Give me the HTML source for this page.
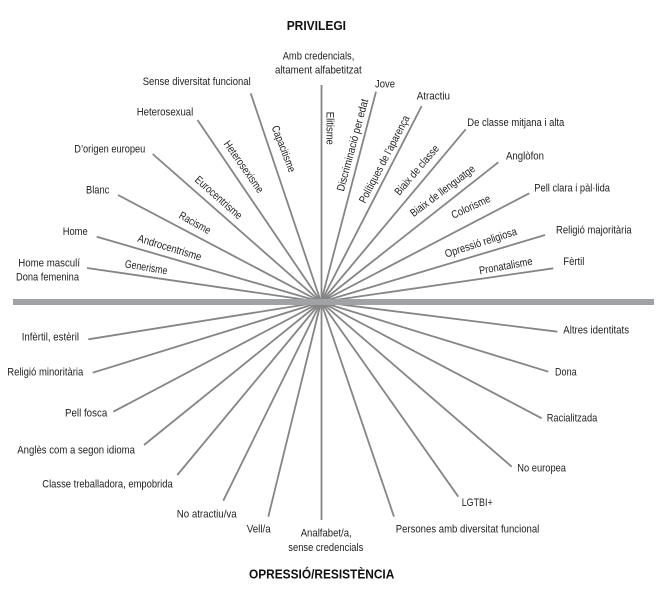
<!DOCTYPE html>
<html><head><meta charset="utf-8"><style>
html,body{margin:0;padding:0;background:#fff;width:664px;height:592px;overflow:hidden}
svg{display:block}
text{font-family:"Liberation Sans Narrow","Liberation Sans",sans-serif;font-size:11px;fill:#1f1f1f}
.b{font-weight:bold;font-size:12.5px;fill:#111}
</style></head><body>
<svg width="664" height="592" viewBox="0 0 664 592" xmlns="http://www.w3.org/2000/svg">
<g stroke="#858585" stroke-width="1.8" stroke-linecap="butt" fill="none">
<!-- upper left -->
<line x1="321" y1="302" x2="250.7" y2="93.3"/>
<line x1="321" y1="302" x2="197.5" y2="120"/>
<line x1="321" y1="302" x2="152.7" y2="154"/>
<line x1="321" y1="302" x2="118" y2="195"/>
<line x1="321" y1="302" x2="96.7" y2="236.7"/>
<line x1="321" y1="302" x2="87" y2="268"/>
<!-- vertical -->
<line x1="321.5" y1="85" x2="321.5" y2="520"/>
<!-- upper right -->
<line x1="321" y1="302" x2="376" y2="91.7"/>
<line x1="321" y1="302" x2="421.7" y2="106"/>
<line x1="321" y1="302" x2="465.7" y2="129.3"/>
<line x1="321" y1="302" x2="498.3" y2="162.3"/>
<line x1="321" y1="302" x2="529.3" y2="193.3"/>
<line x1="321" y1="302" x2="545" y2="235"/>
<line x1="321" y1="302" x2="553.3" y2="268.3"/>
<!-- lower left -->
<line x1="321" y1="302" x2="88.3" y2="339.3"/>
<line x1="321" y1="302" x2="92.7" y2="372.7"/>
<line x1="321" y1="302" x2="113.3" y2="411.7"/>
<line x1="321" y1="302" x2="144" y2="445"/>
<line x1="321" y1="302" x2="177.3" y2="475"/>
<line x1="321" y1="302" x2="223.3" y2="500.7"/>
<line x1="321" y1="302" x2="268.3" y2="516.7"/>
<!-- lower right -->
<line x1="321" y1="302" x2="557.3" y2="331.7"/>
<line x1="321" y1="302" x2="548.3" y2="371.7"/>
<line x1="321" y1="302" x2="541.7" y2="418.3"/>
<line x1="321" y1="302" x2="511.7" y2="466.7"/>
<line x1="321" y1="302" x2="458.3" y2="496.7"/>
<line x1="321" y1="302" x2="394" y2="516.7"/>
</g>
<rect x="13" y="299" width="641" height="6" fill="#a0a3a5"/>

<!-- titles -->
<text class="b" x="286.7" y="30" textLength="59.3" lengthAdjust="spacingAndGlyphs">PRIVILEGI</text>
<text class="b" x="249" y="578.3" textLength="145.3" lengthAdjust="spacingAndGlyphs">OPRESSIÓ/RESISTÈNCIA</text>

<!-- horizontal labels -->
<g>
<text x="282.7" y="59.5" textLength="71.6" lengthAdjust="spacingAndGlyphs">Amb credencials,</text>
<text x="275" y="73.5" textLength="86.7" lengthAdjust="spacingAndGlyphs">altament alfabetitzat</text>
<text x="142.7" y="85" textLength="108" lengthAdjust="spacingAndGlyphs">Sense diversitat funcional</text>
<text x="136.7" y="115.5" textLength="56.6" lengthAdjust="spacingAndGlyphs">Heterosexual</text>
<text x="74.3" y="152.7" textLength="71" lengthAdjust="spacingAndGlyphs">D’origen europeu</text>
<text x="86" y="193.3" textLength="23.3" lengthAdjust="spacingAndGlyphs">Blanc</text>
<text x="62.7" y="235" textLength="25" lengthAdjust="spacingAndGlyphs">Home</text>
<text x="18.3" y="266.7" textLength="61.7" lengthAdjust="spacingAndGlyphs">Home masculí</text>
<text x="16" y="280.7" textLength="63" lengthAdjust="spacingAndGlyphs">Dona femenina</text>
<text x="375" y="87.3" textLength="20" lengthAdjust="spacingAndGlyphs">Jove</text>
<text x="416.7" y="99.3" textLength="33.3" lengthAdjust="spacingAndGlyphs">Atractiu</text>
<text x="467.3" y="126" textLength="97" lengthAdjust="spacingAndGlyphs">De classe mitjana i alta</text>
<text x="506" y="159.3" textLength="38" lengthAdjust="spacingAndGlyphs">Anglòfon</text>
<text x="534.3" y="191.7" textLength="75.7" lengthAdjust="spacingAndGlyphs">Pell clara i pàl·lida</text>
<text x="556" y="233.3" textLength="75.7" lengthAdjust="spacingAndGlyphs">Religió majoritària</text>
<text x="563.3" y="265" textLength="21" lengthAdjust="spacingAndGlyphs">Fèrtil</text>
<text x="21.7" y="340.7" textLength="57.3" lengthAdjust="spacingAndGlyphs">Infèrtil, estèril</text>
<text x="7.3" y="375.7" textLength="76" lengthAdjust="spacingAndGlyphs">Religió minoritària</text>
<text x="65" y="416.7" textLength="42.3" lengthAdjust="spacingAndGlyphs">Pell fosca</text>
<text x="17.3" y="453.3" textLength="117.7" lengthAdjust="spacingAndGlyphs">Anglès com a segon idioma</text>
<text x="42.3" y="487.3" textLength="130.4" lengthAdjust="spacingAndGlyphs">Classe treballadora, empobrida</text>
<text x="176.7" y="517.3" textLength="60" lengthAdjust="spacingAndGlyphs">No atractiu/va</text>
<text x="246.7" y="532.5" textLength="24" lengthAdjust="spacingAndGlyphs">Vell/a</text>
<text x="300.7" y="536.7" textLength="51" lengthAdjust="spacingAndGlyphs">Analfabet/a,</text>
<text x="288.3" y="551" textLength="75" lengthAdjust="spacingAndGlyphs">sense credencials</text>
<text x="563.3" y="333.3" textLength="65.7" lengthAdjust="spacingAndGlyphs">Altres identitats</text>
<text x="555" y="375.7" textLength="21.7" lengthAdjust="spacingAndGlyphs">Dona</text>
<text x="546.7" y="421.7" textLength="50.6" lengthAdjust="spacingAndGlyphs">Racialitzada</text>
<text x="517.3" y="471.7" textLength="48.7" lengthAdjust="spacingAndGlyphs">No europea</text>
<text x="461.7" y="506" textLength="31" lengthAdjust="spacingAndGlyphs">LGTBI+</text>
<text x="395.7" y="532.3" textLength="143.6" lengthAdjust="spacingAndGlyphs">Persones amb diversitat funcional</text>
</g>

<!-- rotated labels -->
<g text-anchor="middle">
<text x="283.7" y="152.5" transform="rotate(69 283.7 148.8)" textLength="49" lengthAdjust="spacingAndGlyphs">Capacitisme</text>
<text x="243.8" y="170.4" transform="rotate(55 243.8 166.7)" textLength="61" lengthAdjust="spacingAndGlyphs">Heterosexisme</text>
<text x="218.7" y="201.2" transform="rotate(41.5 218.7 197.5)" textLength="59" lengthAdjust="spacingAndGlyphs">Eurocentrisme</text>
<text x="195" y="226.5" transform="rotate(29 195 222.8)" textLength="34.5" lengthAdjust="spacingAndGlyphs">Racisme</text>
<text x="169.7" y="251.2" transform="rotate(17 169.7 247.5)" textLength="66" lengthAdjust="spacingAndGlyphs">Androcentrisme</text>
<text x="146.2" y="270.9" transform="rotate(9.5 146.2 267.2)" textLength="43" lengthAdjust="spacingAndGlyphs">Generisme</text>
<text x="330" y="132" transform="rotate(90 330 128.3)" textLength="33" lengthAdjust="spacingAndGlyphs">Elitisme</text>
<text x="352.5" y="148.7" transform="rotate(-75 352.5 145)" textLength="95" lengthAdjust="spacingAndGlyphs">Discriminació per edat</text>
<text x="384.2" y="162.9" transform="rotate(-62.5 384.2 159.2)" textLength="97" lengthAdjust="spacingAndGlyphs">Polítiques de l’aparença</text>
<text x="416.7" y="173.7" transform="rotate(-49.5 416.7 170)" textLength="62" lengthAdjust="spacingAndGlyphs">Biaix de classe</text>
<text x="442.5" y="194.5" transform="rotate(-37 442.5 190.8)" textLength="78" lengthAdjust="spacingAndGlyphs">Biaix de llenguatge</text>
<text x="470.8" y="210.4" transform="rotate(-25 470.8 206.7)" textLength="42" lengthAdjust="spacingAndGlyphs">Colorisme</text>
<text x="480.8" y="246.2" transform="rotate(-18 480.8 242.5)" textLength="75" lengthAdjust="spacingAndGlyphs">Opressió religiosa</text>
<text x="505.7" y="269.5" transform="rotate(-10.5 505.7 265.8)" textLength="54" lengthAdjust="spacingAndGlyphs">Pronatalisme</text>
</g>
</svg>
</body></html>
